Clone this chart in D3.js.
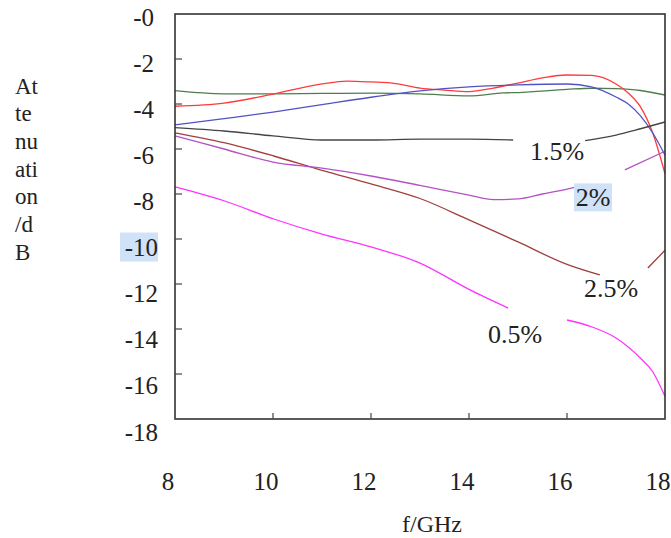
<!DOCTYPE html>
<html lang="en">
<head>
  <meta charset="UTF-8">
  <title>Attenuation</title>
  <style>
    body { margin: 0; background: #fff; }
    text { font-family: 'Liberation Serif', 'Times New Roman', serif; fill: #222; }
  </style>
</head>
<body>

  <svg id="svg" width="671" height="538"></svg>

  <script src="https://d3js.org/d3.v7.min.js"></script>
  <script>
    // tick labels
    const xTicks = [8, 10, 12, 14, 16, 18]
    const yTicks = [0, -2, -4, -6, -8, -10, -12, -14, -16, -18]
    const yTitle = ['At', 'te', 'nu', 'ati', 'on', '/d', 'B']

    // series (null = gap for the label)
    const greenF = [8, 9, 10, 11, 12, 13, 14, 14.7, 15, 16, 16.5, 17, 17.5, 18]
    const greenV = [-3.41, -3.55, -3.55, -3.53, -3.52, -3.55, -3.64, -3.51, -3.49, -3.35, -3.3, -3.32, -3.4, -3.6]

    const redF = [8, 9, 10, 11, 11.5, 12, 12.5, 13, 13.5, 14, 14.5, 15, 15.5, 16, 16.5, 17, 17.25, 17.5, 17.75, 18]
    const redV = [-4.1, -3.96, -3.56, -3.11, -2.98, -3.02, -3.09, -3.29, -3.38, -3.45, -3.29, -3.07, -2.84, -2.71, -2.73, -3.11, -3.51, -4.13, -5.29, -7.1]

    const blueF = [8, 9, 10, 11, 12, 13, 14, 15, 16, 16.5, 17, 17.25, 17.5, 17.75, 18]
    const blueV = [-4.93, -4.65, -4.36, -4.03, -3.7, -3.42, -3.24, -3.15, -3.11, -3.24, -3.69, -4.0, -4.53, -5.29, -6.27]

    const blackF = [8, 9, 10, 11, 12, 13, 14, 14.9, 15.5, 16.37, 17, 17.5, 18]
    const blackV = [-5.05, -5.2, -5.42, -5.6, -5.6, -5.56, -5.56, -5.6, null, -5.63, -5.38, -5.1, -4.8]

    const brownF = [8, 9, 10, 11, 12, 13, 14, 15, 16, 16.67, 17.2, 17.65, 18]
    const brownV = [-5.28, -5.72, -6.3, -6.95, -7.55, -8.2, -9.15, -10.13, -11.13, -11.6, null, -11.29, -10.5]

    const purpleF = [8, 9, 10, 11, 12, 13, 14, 14.5, 15, 15.5, 16, 16.37, 16.8, 17.18, 18]
    const purpleV = [-5.42, -6.0, -6.58, -6.85, -7.2, -7.62, -8.05, -8.25, -8.22, -8.0, -7.78, -7.6, null, -6.93, -6.1]

    const magentaF = [8, 9, 10, 11, 12, 13, 14, 14.8, 15.4, 16, 16.5, 17, 17.5, 17.75, 18]
    const magentaV = [-7.68, -8.3, -9.1, -9.78, -10.35, -11.07, -12.24, -13.07, null, -13.6, -13.9, -14.4, -15.3, -15.9, -17.0]

    const series = [
      { f: greenF, v: greenV, color: '#4e7e4e' },
      { f: redF, v: redV, color: '#ff3a3a' },
      { f: blueF, v: blueV, color: '#5252c4' },
      { f: blackF, v: blackV, color: '#444444' },
      { f: brownF, v: brownV, color: '#a23e3e' },
      { f: purpleF, v: purpleV, color: '#b452c4' },
      { f: magentaF, v: magentaV, color: '#ff33ff' }
    ]

    const curveLabels = [
      { text: '1.5%', f: 15.8, v: -6.1 },
      { text: '2%', f: 16.53, v: -8.15, box: true },
      { text: '2.5%', f: 16.9, v: -12.2 },
      { text: '0.5%', f: 14.94, v: -14.25 }
    ]

    const xScale = d3.scaleLinear().domain([8, 18]).range([175, 665])
    const yScale = d3.scaleLinear().domain([0, -18]).range([14, 419])
    // tick labels sit a little off the ticks in the picture
    const xLabelScale = d3.scaleLinear().domain([8, 18]).range([168, 658])
    const yLabelScale = d3.scaleLinear().domain([0, -18]).range([17, 432])

    const svg = d3.select('#svg')

    // curves
    const line = d3.line()
      .defined(d => d[1] != null)
      .x(d => xScale(d[0]))
      .y(d => yScale(d[1]))
      .curve(d3.curveMonotoneX)

    svg.append('g')
      .selectAll('path')
      .data(series)
      .enter()
      .append('path')
      .attr('d', s => line(s.f.map((f, i) => [f, s.v[i]])))
      .attr('fill', 'none')
      .attr('stroke', s => s.color)
      .attr('stroke-width', 1.3)

    // frame
    svg.append('rect')
      .attr('x', xScale(8))
      .attr('y', yScale(0))
      .attr('width', xScale(18) - xScale(8))
      .attr('height', yScale(-18) - yScale(0))
      .attr('fill', 'none')
      .attr('stroke', '#333')
      .attr('stroke-width', 1.6)

    // inner ticks
    svg.append('g')
      .selectAll('line')
      .data(yTicks.slice(1, -1))
      .enter()
      .append('line')
      .attr('x1', xScale(8))
      .attr('x2', xScale(8) + 7)
      .attr('y1', d => yScale(d))
      .attr('y2', d => yScale(d))
      .attr('stroke', '#444')
      .attr('stroke-width', 1.2)

    svg.append('g')
      .selectAll('line')
      .data(xTicks.slice(1, -1))
      .enter()
      .append('line')
      .attr('x1', d => xScale(d))
      .attr('x2', d => xScale(d))
      .attr('y1', yScale(-18))
      .attr('y2', yScale(-18) - 6)
      .attr('stroke', '#444')
      .attr('stroke-width', 1.2)

    // highlight behind -10
    svg.append('rect')
      .attr('x', 120)
      .attr('y', yLabelScale(-10) - 15)
      .attr('width', 38)
      .attr('height', 29)
      .attr('fill', '#cfe2f8')

    svg.append('g')
      .selectAll('text')
      .data(yTicks)
      .enter()
      .append('text')
      .text(d => d === 0 ? '-0' : String(d))
      .attr('x', d => d > -10 ? 154 : 158)
      .attr('y', d => yLabelScale(d))
      .attr('text-anchor', 'end')
      .attr('dominant-baseline', 'central')
      .style('font-size', '25px')

    svg.append('g')
      .selectAll('text')
      .data(xTicks)
      .enter()
      .append('text')
      .text(d => d)
      .attr('x', d => xLabelScale(d))
      .attr('y', 481)
      .attr('text-anchor', 'middle')
      .attr('dominant-baseline', 'central')
      .style('font-size', '25px')

    svg.append('text')
      .text('f/GHz')
      .attr('x', 432)
      .attr('y', 524)
      .attr('text-anchor', 'middle')
      .attr('dominant-baseline', 'central')
      .style('font-size', '24px')

    svg.append('g')
      .selectAll('text')
      .data(yTitle)
      .enter()
      .append('text')
      .text(d => d)
      .attr('x', 15)
      .attr('y', (d, i) => 86 + i * 27.7)
      .attr('dominant-baseline', 'central')
      .style('font-size', '23px')

    // curve labels
    const labels = svg.append('g')
      .selectAll('g')
      .data(curveLabels)
      .enter()
      .append('g')
    labels.filter(d => d.box)
      .append('rect')
      .attr('x', d => xScale(d.f) - 19)
      .attr('y', d => yScale(d.v) - 14)
      .attr('width', 38)
      .attr('height', 28)
      .attr('fill', '#cfe2f8')
    labels.append('text')
      .text(d => d.text)
      .attr('x', d => xScale(d.f))
      .attr('y', d => yScale(d.v))
      .attr('text-anchor', 'middle')
      .attr('dominant-baseline', 'central')
      .style('font-size', '26px')
  </script>
</body>
</html>
